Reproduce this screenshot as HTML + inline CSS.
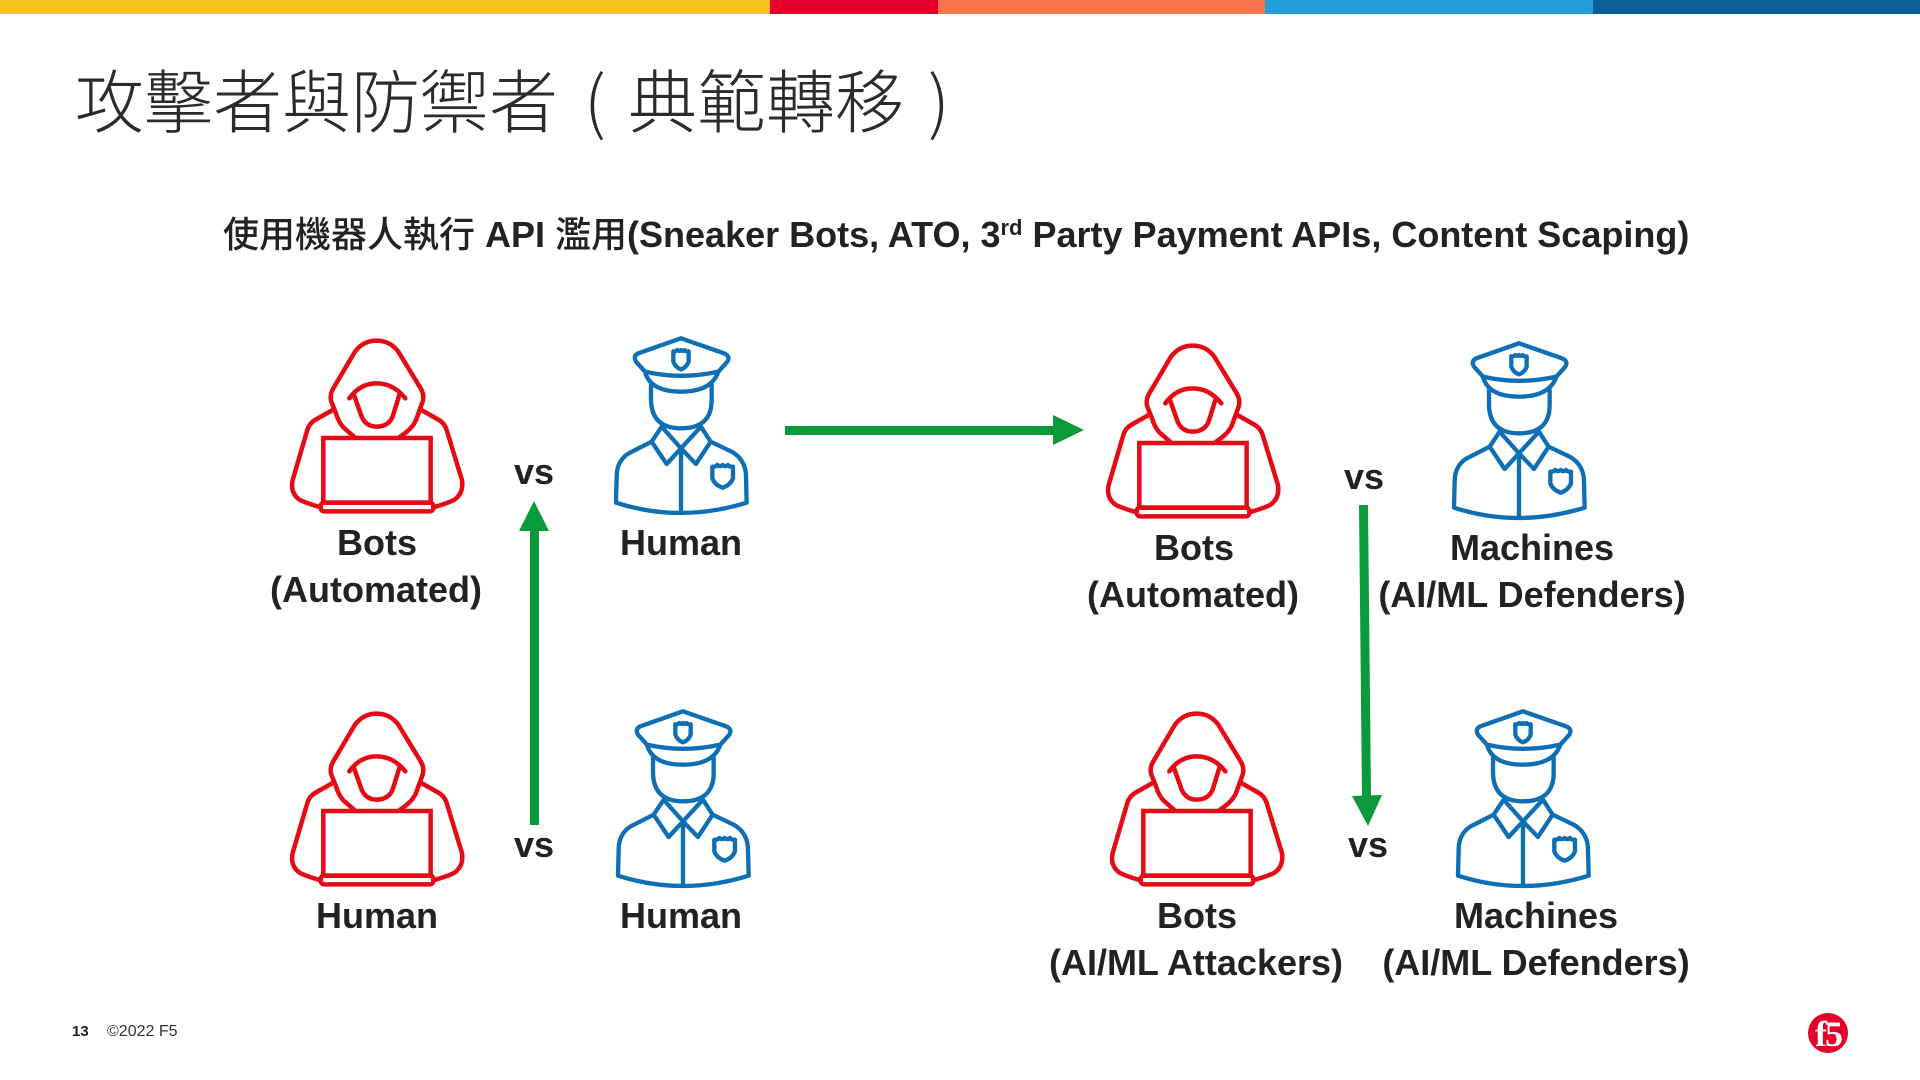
<!DOCTYPE html>
<html><head><meta charset="utf-8"><style>
html,body{margin:0;padding:0;background:#fff}
svg{display:block}
.l{font-family:"Liberation Sans","Noto Sans CJK TC",sans-serif;font-weight:700;font-size:36px;fill:#222;text-anchor:middle}
.t{font-family:"Noto Sans CJK TC",sans-serif;font-size:69px;font-weight:300;fill:#2b2b2b}
.s{font-family:"Liberation Sans","Noto Sans CJK TC",sans-serif;font-size:36px;font-weight:700;fill:#222}
.c{font-family:"Noto Sans CJK TC",sans-serif;font-weight:500}
</style></head><body>
<svg width="1920" height="1080" viewBox="0 0 1920 1080" xmlns="http://www.w3.org/2000/svg">
<defs>
<g id="h" fill="none" stroke="#e60a14" stroke-width="13.5" stroke-linejoin="round" stroke-linecap="round" transform="translate(260 320) scale(.3333)">
<path d="M282 350 L250 322 Q235 305 228 280 L214 245 Q208 225 220 205 L285 95 Q310 62 350 62 Q390 62 415 95 L482 205 Q494 225 488 245 L470 295 Q460 325 420 350"/>
<path d="M268 235 Q300 190 350 190 Q400 190 436 235"/>
<path d="M282 225 L305 290 Q318 320 350 320 Q385 320 398 290 L418 225"/>
<path d="M218 270 L165 300 Q148 310 142 330 L98 480 Q90 520 120 540 Q140 550 182 562"/>
<path d="M484 270 L537 300 Q554 310 560 330 L606 480 Q612 520 582 540 Q562 550 520 562"/>
<rect x="190" y="354" width="322" height="194" stroke-linejoin="miter"/>
<rect x="182" y="548" width="338" height="26" rx="10"/>
</g>
<g id="p" fill="none" stroke="#0f6fb5" stroke-width="13" stroke-linejoin="round" stroke-linecap="round" transform="translate(600 320) scale(.3333)">
<path d="M243 55 L372 100 Q392 108 382 125 L355 155 Q243 180 135 155 L108 125 Q98 108 115 100 Z"/>
<path d="M135 155 Q150 215 243 215 Q335 215 355 155"/>
<path d="M220 94 Q226 96 232 90 Q238 96 243 90 Q249 96 254 90 Q260 96 266 94 L266 125 Q260 142 243 148 Q226 142 220 125 Z"/>
<path d="M153 195 L153 240 Q155 325 243 325 Q335 325 335 240 L335 195"/>
<path d="M185 320 L243 385 L200 432 L155 365 Z"/>
<path d="M303 320 L243 385 L288 432 L332 365 Z"/>
<path d="M155 365 L90 398 Q50 420 50 470 L48 548 Q240 610 440 548 L438 470 Q438 420 395 395 L332 365"/>
<path d="M243 385 V572"/>
<path d="M337 440 Q345 442 352 435 Q360 442 368 435 Q376 442 384 435 Q391 442 399 440 L399 475 Q392 495 368 503 Q344 495 337 475 Z"/>
</g>
</defs>
<rect x="0" y="0" width="770" height="14" fill="#f6c324"/>
<rect x="770" y="0" width="168" height="14" fill="#e4002b"/>
<rect x="938" y="0" width="327" height="14" fill="#fb734d"/>
<rect x="1265" y="0" width="328" height="14" fill="#229fd9"/>
<rect x="1593" y="0" width="327" height="14" fill="#0e5f96"/>

<text class="t" x="75" y="127">攻擊者與防禦者</text>
<text class="t" x="584" y="127">(</text>
<text class="t" x="628" y="127">典範轉移</text>
<text class="t" x="928" y="127">)</text>

<text class="s" x="223" y="247"><tspan class="c">使用機器人執行</tspan> API <tspan class="c">濫用</tspan>(Sneaker Bots, ATO, 3<tspan font-size="22" dy="-12">rd</tspan><tspan dy="12"> Party Payment APIs, Content Scaping)</tspan></text>

<use href="#h"/>
<use href="#h" x="816" y="5"/>
<use href="#h" y="373"/>
<use href="#h" x="820" y="373"/>
<use href="#p"/>
<use href="#p" x="2" y="373"/>
<use href="#p" x="838" y="5"/>
<use href="#p" x="842" y="373"/>

<text class="l" x="377" y="555">Bots</text>
<text class="l" x="376" y="602">(Automated)</text>
<text class="l" x="681" y="555">Human</text>
<text class="l" x="534" y="484">vs</text>
<text class="l" x="377" y="928">Human</text>
<text class="l" x="681" y="928">Human</text>
<text class="l" x="534" y="857">vs</text>
<text class="l" x="1194" y="560">Bots</text>
<text class="l" x="1193" y="607">(Automated)</text>
<text class="l" x="1532" y="560">Machines</text>
<text class="l" x="1532" y="607">(AI/ML Defenders)</text>
<text class="l" x="1364" y="489">vs</text>
<text class="l" x="1197" y="928">Bots</text>
<text class="l" x="1196" y="975">(AI/ML Attackers)</text>
<text class="l" x="1536" y="928">Machines</text>
<text class="l" x="1536" y="975">(AI/ML Defenders)</text>
<text class="l" x="1368" y="857">vs</text>

<g fill="#0a9a3c" stroke="none">
<rect x="785" y="426" width="270" height="9"/>
<polygon points="1053,415 1084,430 1053,445"/>
<rect x="530" y="530" width="9" height="295"/>
<polygon points="519,531 534,501 549,531"/>
<polygon points="1359,505 1368,505 1371,797 1362,797"/>
<polygon points="1352,796 1382,795 1368,826"/>
</g>

<text x="72" y="1036" font-family="Liberation Sans,sans-serif" font-size="15" font-weight="700" fill="#222">13</text>
<text x="107" y="1036" font-family="Liberation Sans,sans-serif" font-size="16" fill="#333">©2022 F5</text>
<circle cx="1828" cy="1033" r="20" fill="#e4002b"/>
<text x="1828" y="1046" text-anchor="middle" font-family="Liberation Serif,serif" font-weight="700" font-size="36" letter-spacing="-2" fill="#fff">f5</text>
</svg>
</body></html>
